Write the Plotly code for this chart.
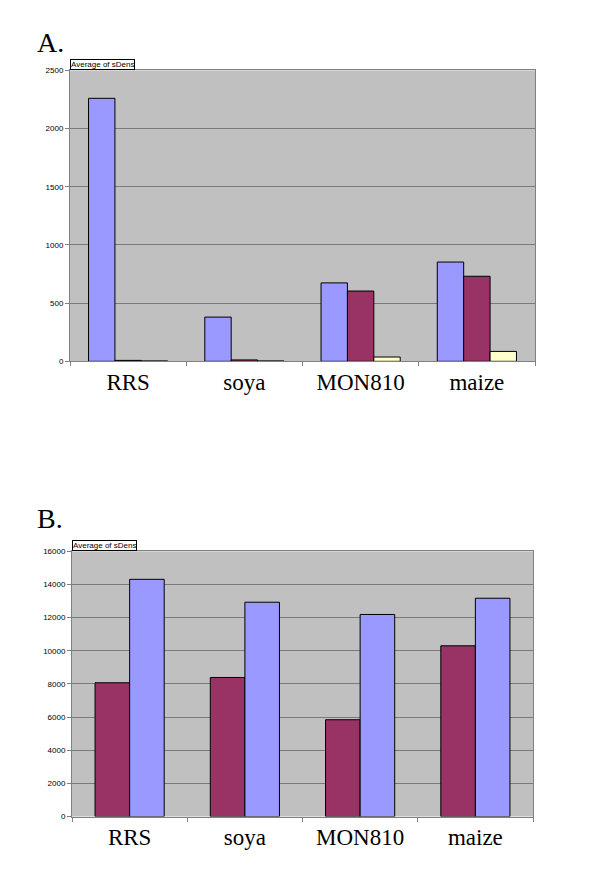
import plotly.graph_objs as go

categories = ["RRS", "soya", "MON810", "maize"]

# chart A: three series
a_blue = [2260, 380, 674, 853]
a_maroon = [8, 12, 604, 731]
a_yellow = [3, 3, 37, 85]

# chart B: two series
b_maroon = [8070, 8390, 5840, 10300]
b_blue = [14310, 12930, 12190, 13170]

BLUE = "#9999ff"
MAROON = "#993366"
YELLOW = "#ffffcc"
PAGE_MARGIN = 8  # default body margin of the html page
W, H = 600 - 2 * PAGE_MARGIN, 881 - 2 * PAGE_MARGIN


def px_x(x):
    return (x - PAGE_MARGIN) / W


def px_y(y):
    return 1 - (y - PAGE_MARGIN) / H


fig = go.Figure()

# bars in A: 3 bars of width 0.227 centred in each category
wa = 0.227
for i, (vals, col) in enumerate([(a_blue, BLUE), (a_maroon, MAROON), (a_yellow, YELLOW)]):
    fig.add_trace(go.Bar(x=categories, y=vals, xaxis="x", yaxis="y",
                         width=wa, offset=-1.5 * wa + i * wa,
                         marker=dict(color=col, line=dict(color="#000000", width=1)),
                         showlegend=False))

wb = 0.30
for i, (vals, col) in enumerate([(b_maroon, MAROON), (b_blue, BLUE)]):
    fig.add_trace(go.Bar(x=categories, y=vals, xaxis="x2", yaxis="y2",
                         width=wb, offset=-wb + i * wb,
                         marker=dict(color=col, line=dict(color="#000000", width=1)),
                         showlegend=False))

xcommon = dict(type="category", showgrid=False, ticks="outside", tickson="boundaries",
               ticklen=4, tickcolor="#808080", showline=True, linecolor="#808080",
               linewidth=1, mirror=True,
               tickfont=dict(family="Liberation Serif", size=23, color="#000000"))
ycommon = dict(showgrid=True, gridcolor="#7a7a7a", gridwidth=1, zeroline=False,
               ticks="outside", ticklen=4, tickcolor="#808080", showline=True,
               linecolor="#808080", linewidth=1, mirror=True, tickformat="d",
               tickfont=dict(family="Liberation Sans", size=8, color="#000000"))

fig.update_layout(
    width=W, height=H,
    margin=dict(l=0, r=0, t=0, b=0),
    paper_bgcolor="#ffffff",
    plot_bgcolor="#c0c0c0",
    barmode="overlay",
    xaxis=dict(xcommon, domain=[px_x(70), px_x(535)], anchor="y"),
    yaxis=dict(ycommon, domain=[px_y(361), px_y(67)], anchor="x",
               range=[0, 2500], dtick=500),
    xaxis2=dict(xcommon, domain=[px_x(72), px_x(533)], anchor="y2"),
    yaxis2=dict(ycommon, domain=[px_y(821), px_y(553)], anchor="x2",
                range=[0, 16000], dtick=2000),
    annotations=[
        dict(text="A.", x=px_x(35), y=px_y(39), xref="paper", yref="paper",
             xanchor="left", yanchor="middle", showarrow=False,
             font=dict(family="Liberation Serif", size=28, color="#000000")),
        dict(text="B.", x=px_x(35), y=px_y(520), xref="paper", yref="paper",
             xanchor="left", yanchor="middle", showarrow=False,
             font=dict(family="Liberation Serif", size=28, color="#000000")),
        dict(text="Average of sDens", x=px_x(70), y=px_y(67), xref="paper", yref="paper",
             xanchor="left", yanchor="bottom", showarrow=False,
             bgcolor="#ffffff", bordercolor="#000000", borderwidth=1, borderpad=0,
             font=dict(family="Liberation Sans", size=8, color="#000000")),
        dict(text="Average of sDens", x=px_x(72), y=px_y(553), xref="paper", yref="paper",
             xanchor="left", yanchor="bottom", showarrow=False,
             bgcolor="#ffffff", bordercolor="#000000", borderwidth=1, borderpad=0,
             font=dict(family="Liberation Sans", size=8, color="#000000")),
    ],
)

fig.write_html("out.html")
